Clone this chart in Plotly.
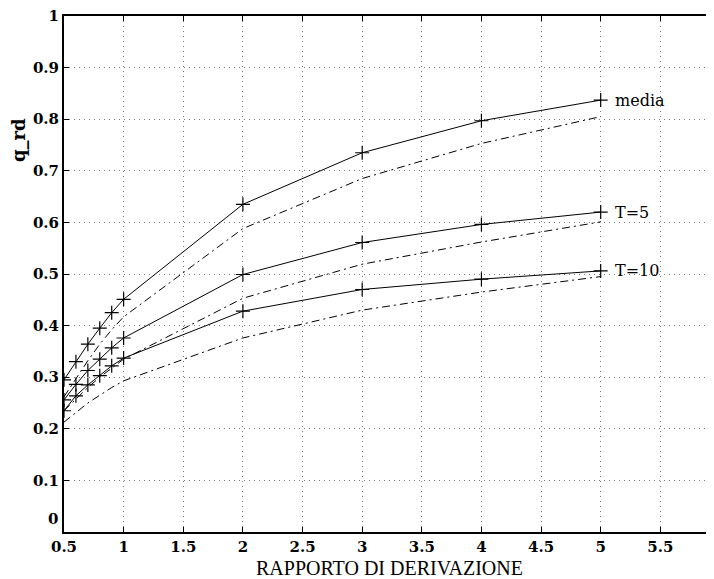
import plotly.graph_objects as go

x_vals = [0.5, 0.6, 0.7, 0.8, 0.9, 1.0, 2.0, 3.0, 4.0, 5.0]

media_solid = [0.295, 0.330, 0.364, 0.395, 0.425, 0.451, 0.635, 0.735, 0.797, 0.837]
media_dash = [0.262, 0.298, 0.332, 0.364, 0.392, 0.417, 0.588, 0.685, 0.753, 0.805]
t5_solid = [0.256, 0.286, 0.313, 0.335, 0.357, 0.376, 0.499, 0.561, 0.596, 0.620]
t5_dash = [0.235, 0.258, 0.280, 0.300, 0.318, 0.335, 0.453, 0.519, 0.562, 0.601]
t10_solid = [0.235, 0.264, 0.285, 0.303, 0.322, 0.337, 0.428, 0.470, 0.490, 0.506]
t10_dash = [0.213, 0.232, 0.250, 0.265, 0.280, 0.293, 0.376, 0.430, 0.465, 0.495]

labels = ["media", "T=5", "T=10"]
label_y = [0.837, 0.620, 0.506]

x_ticks = [0.5, 1, 1.5, 2, 2.5, 3, 3.5, 4, 4.5, 5, 5.5]
y_ticks = [0, 0.1, 0.2, 0.3, 0.4, 0.5, 0.6, 0.7, 0.8, 0.9, 1]

CENTURY = "DejaVu Serif, serif"
TIMES = "Liberation Serif, Times New Roman, serif"

fig = go.Figure()
for sol in (media_solid, t5_solid, t10_solid):
    fig.add_trace(go.Scatter(
        x=x_vals, y=sol, mode="lines+markers",
        line=dict(color="black", width=1),
        marker=dict(symbol="cross-thin", size=10, line=dict(color="black", width=1.2), color="black"),
        showlegend=False, hoverinfo="skip"))
for das in (media_dash, t5_dash, t10_dash):
    fig.add_trace(go.Scatter(
        x=x_vals, y=das, mode="lines",
        line=dict(color="black", width=1, dash="8px,4px,2px,4px"),
        showlegend=False, hoverinfo="skip"))

for lab, ly in zip(labels, label_y):
    fig.add_annotation(x=5.1, y=ly, text=lab, showarrow=False, xanchor="left", yanchor="middle",
                       font=dict(family=CENTURY, size=16, color="black"))

# y tick label "0" sits raised above the axis, as in the original
fig.add_annotation(xref="paper", yref="y", x=0, y=y_ticks[0], text=f"<b>{y_ticks[0]:g}</b>",
                   showarrow=False, xanchor="right", yanchor="middle", xshift=-4, yshift=13,
                   font=dict(family=CENTURY, size=15, color="black"))

fig.add_annotation(xref="paper", yref="paper", x=-0.069, y=0.76, text="<b>q_rd</b>", textangle=-90,
                   showarrow=False, xanchor="center", yanchor="middle",
                   font=dict(family=CENTURY, size=18, color="black"))

fig.add_annotation(xref="paper", yref="paper", x=0.5, y=-0.069, text="RAPPORTO DI DERIVAZIONE",
                   showarrow=False, xanchor="center", yanchor="middle",
                   font=dict(family=TIMES, size=20, color="black"))

fig.update_layout(
    width=714, height=579,
    margin=dict(l=56, r=8, t=8, b=55),
    paper_bgcolor="white", plot_bgcolor="white",
    xaxis=dict(
        range=[0.5, 5.95], tickvals=x_ticks, ticktext=[f"{v:g}" for v in x_ticks],
        showgrid=True, gridcolor="#777777", griddash="1px,4px", gridwidth=1,
        showline=True, linecolor="black", linewidth=2, mirror="ticks",
        ticks="inside", ticklen=5, tickcolor="black", zeroline=False, automargin=False,
        ticklabeloverflow="allow",
        tickfont=dict(family=CENTURY, size=15, color="black", weight="bold"),
    ),
    yaxis=dict(
        range=[0, 1], tickvals=y_ticks, ticktext=[""] + [f"{v:g}" for v in y_ticks[1:]],
        showgrid=True, gridcolor="#777777", griddash="1px,4px", gridwidth=1,
        showline=True, linecolor="black", linewidth=2,
        ticks="inside", ticklen=5, tickcolor="black", zeroline=False, automargin=False,
        ticklabeloverflow="allow",
        tickfont=dict(family=CENTURY, size=15, color="black", weight="bold"),
    ),
)

fig.write_html("out.html")
